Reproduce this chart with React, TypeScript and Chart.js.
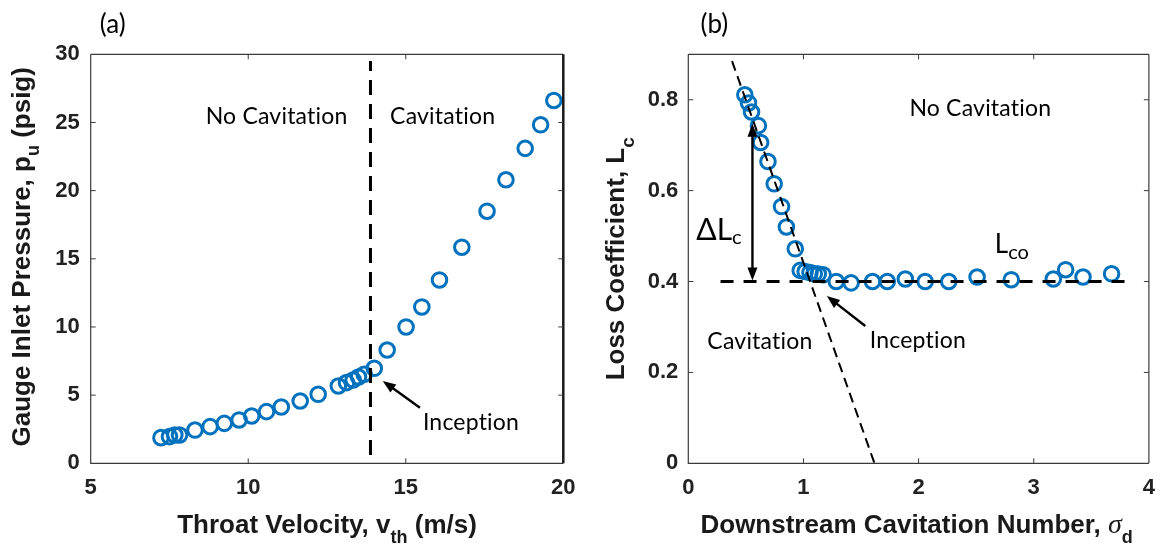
import { useEffect, useRef } from 'react';
import { Chart, registerables } from 'chart.js';

Chart.register(...registerables);

const W = 1166;
const H = 546;

// ---------- Panel (a) data ----------
const throatVelocity = [7.23, 7.5, 7.67, 7.82, 8.31, 8.79, 9.24, 9.71, 10.11, 10.58, 11.05, 11.65, 12.22, 12.86, 13.12, 13.33, 13.5, 13.68, 14.0, 14.41, 15.01, 15.51, 16.07, 16.78, 17.58, 18.18, 18.79, 19.28, 19.7];
const inletPressure = [1.88, 1.96, 2.08, 2.08, 2.44, 2.69, 2.93, 3.18, 3.47, 3.79, 4.13, 4.57, 5.06, 5.67, 5.92, 6.11, 6.33, 6.53, 6.97, 8.31, 10.0, 11.47, 13.45, 15.85, 18.49, 20.8, 23.1, 24.83, 26.61];
const xTicksA = [5, 10, 15, 20];
const xTickLabelsA = ['5', '10', '15', '20'];
const yTicksA = [0, 5, 10, 15, 20, 25, 30];
const yTickLabelsA = ['0', '5', '10', '15', '20', '25', '30'];
const inceptionLineX = [13.88, 13.88];
const inceptionLineY = [0.6, 29.5];

// ---------- Panel (b) data ----------
const sigmaD = [0.491, 0.523, 0.549, 0.609, 0.628, 0.692, 0.746, 0.81, 0.852, 0.929, 0.972, 1.015, 1.057, 1.094, 1.129, 1.171, 1.285, 1.414, 1.6, 1.728, 1.885, 2.057, 2.262, 2.508, 2.805, 3.17, 3.277, 3.428, 3.676];
const lossCoef = [0.811, 0.793, 0.773, 0.743, 0.706, 0.664, 0.615, 0.565, 0.52, 0.472, 0.4245, 0.422, 0.42, 0.417, 0.4165, 0.415, 0.4, 0.397, 0.4, 0.4, 0.4055, 0.4, 0.4, 0.41, 0.404, 0.4055, 0.426, 0.41, 0.417];
const xTicksB = [0, 1, 2, 3, 4];
const xTickLabelsB = ['0', '1', '2', '3', '4'];
const yTicksB = [0, 0.2, 0.4, 0.6, 0.8];
const yTickLabelsB = ['0', '0.2', '0.4', '0.6', '0.8'];
const lcoLineX = [0.28, 3.86];
const lcoLineY = [0.4, 0.4];
const slopeLineX = [0.38, 1.617];
const slopeLineY = [0.885, 0];

const BLUE = '#0072BD';
const TICK_FONT = { family: '"Liberation Sans", Arial, sans-serif', size: 22, weight: 'bold' as const };
const TITLE = 'bold 26px "Liberation Sans", Arial, sans-serif';
const TITLE_SUB = 'bold 18px "Liberation Sans", Arial, sans-serif';
const NOTE = '23px Lato, "Open Sans", sans-serif';

type Run = { text: string; font: string; dy?: number };

function runsWidth(ctx: CanvasRenderingContext2D, runs: Run[]) {
  let w = 0;
  for (const r of runs) {
    ctx.font = r.font;
    w += ctx.measureText(r.text).width;
  }
  return w;
}

function drawRuns(ctx: CanvasRenderingContext2D, runs: Run[], x: number, y: number, align: 'left' | 'center', rot = 0) {
  ctx.save();
  ctx.translate(x, y);
  if (rot) ctx.rotate(rot);
  const w = runsWidth(ctx, runs);
  let cx = align === 'center' ? -w / 2 : 0;
  ctx.textAlign = 'left';
  ctx.textBaseline = 'alphabetic';
  for (const r of runs) {
    ctx.font = r.font;
    ctx.fillText(r.text, cx, r.dy || 0);
    cx += ctx.measureText(r.text).width;
  }
  ctx.restore();
}

function drawHead(ctx: CanvasRenderingContext2D, x: number, y: number, ang: number, len: number, half: number) {
  ctx.beginPath();
  ctx.moveTo(x, y);
  ctx.lineTo(x - len * Math.cos(ang) + half * Math.sin(ang), y - len * Math.sin(ang) - half * Math.cos(ang));
  ctx.lineTo(x - len * Math.cos(ang) - half * Math.sin(ang), y - len * Math.sin(ang) + half * Math.cos(ang));
  ctx.closePath();
  ctx.fill();
}

function drawArrow(ctx: CanvasRenderingContext2D, x0: number, y0: number, x1: number, y1: number, both: boolean, lw: number) {
  const ang = Math.atan2(y1 - y0, x1 - x0);
  const len = 13;
  const half = 5;
  const c = Math.cos(ang);
  const s = Math.sin(ang);
  ctx.save();
  ctx.strokeStyle = '#000';
  ctx.fillStyle = '#000';
  ctx.lineWidth = lw;
  ctx.beginPath();
  ctx.moveTo(both ? x0 + c * len * 0.7 : x0, both ? y0 + s * len * 0.7 : y0);
  ctx.lineTo(x1 - c * len * 0.7, y1 - s * len * 0.7);
  ctx.stroke();
  drawHead(ctx, x1, y1, ang, len, half);
  if (both) drawHead(ctx, x0, y0, ang + Math.PI, len, half);
  ctx.restore();
}

type Note = { text: string; x: number; y: number };
type Arr = { x0: number; y0: number; x1: number; y1: number; both?: boolean };
type Rich = { runs: Run[]; x: number; y: number };

type Deco = {
  panel: string;
  panelDx: number;
  xTicks: number[];
  yTicks: number[];
  rightWidth: number;
  notes: Note[];
  arrows: Arr[];
  rich: Rich[];
  xTitle: Run[];
  xTitleDx: number;
  yTitle: Run[];
  yTitleDx: number;
  yTitleDy: number;
};

const decoPlugin = {
  id: 'deco',
  afterDraw(chart: any, _args: any, opts: Deco) {
    const { ctx, chartArea } = chart;
    const { left, right, top, bottom } = chartArea;
    const sx = chart.scales.x;
    const sy = chart.scales.y;
    ctx.save();
    // box
    ctx.strokeStyle = '#3a3a3a';
    ctx.lineWidth = 1.2;
    ctx.beginPath();
    ctx.moveTo(left, top);
    ctx.lineTo(right, top);
    ctx.moveTo(left, top);
    ctx.lineTo(left, bottom);
    ctx.lineTo(right, bottom);
    ctx.stroke();
    ctx.lineWidth = opts.rightWidth;
    ctx.strokeStyle = opts.rightWidth > 1.5 ? '#1a1a1a' : '#3a3a3a';
    ctx.beginPath();
    ctx.moveTo(right, top);
    ctx.lineTo(right, bottom);
    ctx.stroke();
    // inward ticks
    ctx.strokeStyle = '#3a3a3a';
    ctx.lineWidth = 1;
    ctx.beginPath();
    for (const v of opts.xTicks) {
      const px = sx.getPixelForValue(v);
      if (Math.abs(px - left) < 2 || Math.abs(px - right) < 2) continue;
      ctx.moveTo(px, bottom);
      ctx.lineTo(px, bottom - 5);
      ctx.moveTo(px, top);
      ctx.lineTo(px, top + 5);
    }
    for (const v of opts.yTicks) {
      const py = sy.getPixelForValue(v);
      if (Math.abs(py - top) < 2 || Math.abs(py - bottom) < 2) continue;
      ctx.moveTo(left, py);
      ctx.lineTo(left + 5, py);
      ctx.moveTo(right, py);
      ctx.lineTo(right - 5, py);
    }
    ctx.stroke();

    ctx.fillStyle = '#000';
    // notes
    for (const n of opts.notes) {
      ctx.font = NOTE;
      try { (ctx as any).letterSpacing = '0.2px'; } catch (e) { /* ignore */ }
      ctx.textAlign = 'center';
      ctx.textBaseline = 'alphabetic';
      ctx.fillText(n.text, sx.getPixelForValue(n.x), sy.getPixelForValue(n.y));
    }
    try { (ctx as any).letterSpacing = '0px'; } catch (e) { /* ignore */ }
    for (const r of opts.rich) {
      drawRuns(ctx, r.runs, sx.getPixelForValue(r.x), sy.getPixelForValue(r.y), 'left');
    }
    for (const a of opts.arrows) {
      drawArrow(ctx, sx.getPixelForValue(a.x0), sy.getPixelForValue(a.y0), sx.getPixelForValue(a.x1), sy.getPixelForValue(a.y1), !!a.both, 2.4);
    }
    // panel label
    ctx.font = '26px Lato, "Open Sans", sans-serif';
    ctx.textAlign = 'center';
    ctx.fillText(opts.panel, left + opts.panelDx, top - 21);
    // axis titles
    ctx.fillStyle = '#1a1a1a';
    drawRuns(ctx, opts.xTitle, (left + right) / 2 + opts.xTitleDx, bottom + 70, 'center');
    drawRuns(ctx, opts.yTitle, left + opts.yTitleDx, (top + bottom) / 2 + opts.yTitleDy, 'center', -Math.PI / 2);
    ctx.restore();
  },
};

function makeConfig(opts: {
  points: { x: number; y: number }[];
  lines: { x: number; y: number }[][];
  lineStyles: { width: number; dash: number[] }[];
  xMin: number; xMax: number; yMin: number; yMax: number;
  xTicks: number[]; xLabels: string[]; yTicks: number[]; yLabels: string[];
  areaLeft: number; areaRight: number; yPad: number;
  deco: Deco;
}): any {
  const lineSets = opts.lines.map((d, i) => ({
    data: d,
    showLine: true,
    borderColor: '#000',
    borderWidth: opts.lineStyles[i].width,
    borderDash: opts.lineStyles[i].dash,
    pointRadius: 0,
    fill: false,
    clip: false,
  }));
  return {
    type: 'scatter',
    data: {
      datasets: [
        ...lineSets,
        {
          data: opts.points,
          pointStyle: 'circle',
          pointRadius: 7.3,
          pointBorderWidth: 3,
          borderColor: BLUE,
          backgroundColor: 'rgba(0,0,0,0)',
          pointBorderColor: BLUE,
          pointBackgroundColor: 'rgba(0,0,0,0)',
          clip: false,
        },
      ],
    },
    options: {
      animation: false,
      responsive: false,
      maintainAspectRatio: false,
      events: [],
      layout: { padding: { left: 0, top: 54.3, right: W - opts.areaRight, bottom: 0 } },
      plugins: { legend: { display: false }, tooltip: { enabled: false }, deco: opts.deco },
      scales: {
        x: {
          type: 'linear',
          min: opts.xMin,
          max: opts.xMax,
          grid: { display: false, drawTicks: false },
          border: { display: false },
          afterBuildTicks: (s: any) => { s.ticks = opts.xTicks.map((v) => ({ value: v })); },
          afterFit: (s: any) => { s.height = H - 463.3; },
          ticks: {
            font: TICK_FONT,
            color: '#222',
            padding: 11,
            maxRotation: 0,
            autoSkip: false,
            callback: (_v: any, i: number) => opts.xLabels[i],
          },
        },
        y: {
          type: 'linear',
          min: opts.yMin,
          max: opts.yMax,
          grid: { display: false, drawTicks: false },
          border: { display: false },
          afterBuildTicks: (s: any) => { s.ticks = opts.yTicks.map((v) => ({ value: v })); },
          afterFit: (s: any) => { s.width = opts.areaLeft; },
          ticks: {
            font: TICK_FONT,
            color: '#222',
            padding: opts.yPad,
            autoSkip: false,
            callback: (_v: any, i: number) => opts.yLabels[i],
          },
        },
      },
    },
    plugins: [decoPlugin],
  };
}

function zip(xs: number[], ys: number[]) {
  return xs.map((x, i) => ({ x, y: ys[i] }));
}

export default function App() {
  const refA = useRef<HTMLCanvasElement>(null);
  const refB = useRef<HTMLCanvasElement>(null);

  useEffect(() => {
    const cfgA = makeConfig({
      points: zip(throatVelocity, inletPressure),
      lines: [zip(inceptionLineX, inceptionLineY)],
      lineStyles: [{ width: 3, dash: [15, 9] }],
      xMin: 5, xMax: 20, yMin: 0, yMax: 30,
      xTicks: xTicksA, xLabels: xTickLabelsA, yTicks: yTicksA, yLabels: yTickLabelsA,
      areaLeft: 90.7, areaRight: 563.3, yPad: 11,
      deco: {
        panel: '(a)',
        panelDx: 22,
        xTicks: xTicksA,
        yTicks: yTicksA,
        rightWidth: 2.5,
        notes: [
          { text: 'No Cavitation', x: 10.9, y: 24.9 },
          { text: 'Cavitation', x: 16.17, y: 24.9 },
          { text: 'Inception', x: 17.07, y: 2.47 },
        ],
        arrows: [{ x0: 15.45, y0: 4.08, x1: 14.27, y1: 6.04 }],
        rich: [],
        xTitle: [
          { text: 'Throat Velocity, v', font: TITLE },
          { text: 'th', font: TITLE_SUB, dy: 10 },
          { text: ' (m/s)', font: TITLE },
        ],
        xTitleDx: 0,
        yTitle: [
          { text: 'Gauge Inlet Pressure, p', font: TITLE },
          { text: 'u', font: TITLE_SUB, dy: 9 },
          { text: ' (psig)', font: TITLE },
        ],
        yTitleDx: -61,
        yTitleDy: -2,
      },
    });
    const cfgB = makeConfig({
      points: zip(sigmaD, lossCoef),
      lines: [zip(lcoLineX, lcoLineY), zip(slopeLineX, slopeLineY)],
      lineStyles: [{ width: 3, dash: [13, 10] }, { width: 2, dash: [10, 6] }],
      xMin: 0, xMax: 4, yMin: 0, yMax: 0.9,
      xTicks: xTicksB, xLabels: xTickLabelsB, yTicks: yTicksB, yLabels: yTickLabelsB,
      areaLeft: 688.3, areaRight: 1155, yPad: 10,
      deco: {
        panel: '(b)',
        panelDx: 26,
        xTicks: xTicksB,
        yTicks: yTicksB,
        rightWidth: 1.2,
        notes: [
          { text: 'No Cavitation', x: 2.536, y: 0.764 },
          { text: 'Cavitation', x: 0.622, y: 0.252 },
          { text: 'Inception', x: 1.994, y: 0.254 },
        ],
        arrows: [
          { x0: 1.537, y0: 0.302, x1: 1.203, y1: 0.368 },
          { x0: 0.557, y0: 0.402, x1: 0.557, y1: 0.747, both: true },
        ],
        rich: [
          {
            runs: [
              { text: 'ΔL', font: '30px Lato, "Open Sans", sans-serif' },
              { text: 'c', font: '20px Lato, "Open Sans", sans-serif', dy: 4 },
            ],
            x: 0.07,
            y: 0.492,
          },
          {
            runs: [
              { text: 'L', font: '26px Lato, "Open Sans", sans-serif' },
              { text: 'co', font: '20px Lato, "Open Sans", sans-serif', dy: 6 },
            ],
            x: 2.662,
            y: 0.4635,
          },
        ],
        xTitle: [
          { text: 'Downstream Cavitation Number, ', font: TITLE },
          { text: 'σ', font: 'italic 28px "Liberation Serif", "DejaVu Serif", serif' },
          { text: 'd', font: TITLE_SUB, dy: 10 },
        ],
        xTitleDx: -2,
        yTitle: [
          { text: 'Loss Coefficient, L', font: TITLE },
          { text: 'c', font: 'bold 19px "Liberation Sans", Arial, sans-serif', dy: 10 },
        ],
        yTitleDx: -64.3,
        yTitleDy: 0,
      },
    });
    const a = new Chart(refA.current as HTMLCanvasElement, cfgA);
    const b = new Chart(refB.current as HTMLCanvasElement, cfgB);
    return () => {
      a.destroy();
      b.destroy();
    };
  }, []);

  return (
    <div style={{ position: 'fixed', left: 0, top: 0, width: W, height: H, background: '#fff' }}>
      <canvas ref={refA} width={W} height={H} style={{ position: 'absolute', left: 0, top: 0, width: W, height: H }} />
      <canvas ref={refB} width={W} height={H} style={{ position: 'absolute', left: 0, top: 0, width: W, height: H }} />
    </div>
  );
}
